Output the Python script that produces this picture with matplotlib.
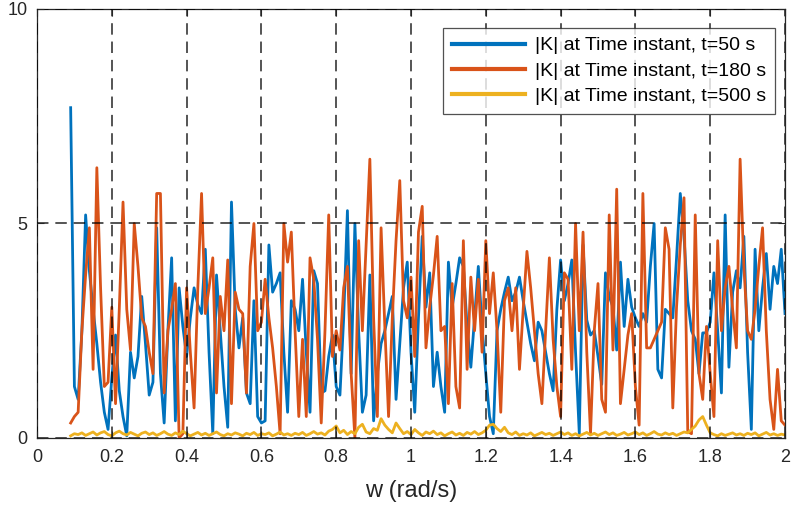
import numpy as np
import matplotlib
matplotlib.use("Agg")
import matplotlib.pyplot as plt

plt.rcParams['font.family'] = ['Liberation Sans', 'DejaVu Sans']

w_start, w_step, n_pts = 0.09, 0.01, 192

k_t50 = [7.7,
    1.2, 0.9, 2.5, 5.2, 3.9, 3.0, 2.2, 1.3, 0.6, 0.2,
    1.4, 2.4, 1.1, 0.5, 0.05, 2.0, 1.4, 1.9, 3.3, 2.2,
    1.0, 1.3, 4.9, 1.5, 0.35, 2.5, 4.2, 0.4, 3.5, 2.6,
    1.9, 2.8, 3.5, 3.1, 2.9, 4.4, 2.0, 0.1, 3.8, 2.5,
    1.2, 0.25, 5.5, 3.0, 2.1, 2.8, 1.05, 0.8, 3.2, 0.5,
    0.35, 0.4, 4.5, 3.4, 3.6, 3.85, 2.0, 0.6, 3.2, 3.0,
    2.5, 3.7, 2.0, 0.6, 3.9, 3.6, 1.05, 1.1, 1.9, 2.4,
    1.2, 1.0, 2.8, 5.3, 1.5, 5.0, 2.5, 0.6, 1.0, 3.8,
    0.4, 1.5, 2.2, 2.5, 2.9, 3.3, 0.9, 2.2, 3.5, 4.1,
    2.0, 0.6, 2.8, 4.7, 3.05, 3.85, 1.2, 2.0, 1.2, 0.6,
    4.1, 3.05, 3.6, 4.2, 4.0, 2.6, 1.65, 2.8, 4.0, 2.6,
    1.5, 0.5, 0.1, 2.5, 3.0, 3.4, 3.75, 3.2, 3.4, 3.75,
    3.2, 2.7, 2.2, 1.8, 2.7, 2.5, 2.0, 1.5, 1.1, 3.0,
    4.15, 3.2, 3.6, 4.15, 2.0, 0.1, 4.5, 2.75, 2.4, 2.5,
    1.9, 1.25, 3.85, 3.3, 3.05, 2.05, 4.1, 2.6, 3.7, 3.05,
    2.8, 2.6, 2.9, 2.7, 4.0, 5.0, 1.6, 1.4, 3.0, 2.9,
    2.8, 4.2, 5.7, 4.7, 3.2, 2.5, 2.3, 1.5, 2.45, 2.45,
    2.7, 3.85, 2.5, 1.05, 5.2, 1.65, 3.4, 3.9, 3.5, 4.7,
    2.0, 0.2, 4.4, 2.5, 3.5, 4.3, 3.0, 4.0, 3.6, 4.4,
    2.9]

k_t180 = [0.35,
    0.5, 0.6, 2.5, 3.8, 4.9, 1.6, 6.3, 3.5, 1.2, 1.3,
    3.05, 0.8, 3.0, 5.5, 3.0, 2.05, 5.0, 4.0, 2.8, 2.6,
    2.0, 1.5, 5.7, 5.7, 1.05, 2.5, 3.0, 3.6, 0.0, 0.1,
    3.5, 2.0, 0.7, 3.5, 5.7, 2.9, 3.5, 4.2, 1.05, 3.3,
    2.5, 4.15, 0.8, 3.4, 3.0, 2.9, 1.05, 4.0, 5.0, 2.5,
    2.7, 3.7, 2.8, 2.1, 1.2, 0.1, 5.0, 4.1, 4.8, 2.5,
    0.5, 2.3, 0.5, 4.2, 3.7, 2.3, 0.35, 2.5, 5.2, 1.9,
    2.5, 2.05, 3.5, 4.0, 1.5, 0.0, 4.6, 2.5, 4.5, 6.5,
    2.8, 0.5, 4.9, 2.6, 0.5, 2.8, 4.6, 6.0, 3.2, 2.8,
    3.75, 1.9, 4.8, 5.4, 2.1, 3.05, 3.8, 4.7, 2.5, 2.6,
    0.8, 3.6, 1.2, 0.7, 4.6, 1.6, 3.75, 2.5, 3.7, 2.0,
    4.6, 2.9, 3.85, 2.5, 0.6, 3.2, 3.5, 2.5, 3.5, 1.6,
    3.0, 4.35, 3.5, 2.5, 1.5, 0.8, 2.5, 4.2, 2.3, 1.2,
    0.5, 3.85, 3.7, 1.6, 5.0, 2.5, 4.8, 2.0, 0.1, 2.5,
    3.6, 0.9, 0.6, 5.2, 2.05, 5.8, 0.8, 1.6, 2.4, 2.9,
    1.2, 0.3, 5.7, 2.1, 2.1, 2.3, 2.5, 2.7, 4.9, 4.4,
    0.7, 3.05, 4.5, 5.6, 0.15, 0.1, 5.2, 1.5, 0.9, 2.6,
    1.5, 0.5, 4.6, 2.5, 3.5, 4.0, 3.0, 2.1, 6.5, 4.0,
    2.5, 2.3, 3.0, 4.0, 4.9, 2.5, 0.9, 0.2, 1.6, 0.4,
    0.3]

k_t500 = [
    0.05, 0.10, 0.08, 0.12, 0.06, 0.10, 0.14, 0.07, 0.12, 0.15,
    0.08, 0.05, 0.12, 0.16, 0.10, 0.07, 0.13, 0.09, 0.05, 0.11,
    0.14, 0.08, 0.12, 0.06, 0.10, 0.15, 0.09, 0.06, 0.12, 0.08,
    0.16, 0.10, 0.05, 0.09, 0.13, 0.07, 0.11, 0.06, 0.10, 0.14,
    0.08, 0.05, 0.10, 0.07, 0.12, 0.09, 0.05, 0.11, 0.08, 0.13,
    0.06, 0.10, 0.08, 0.12, 0.05, 0.09, 0.14, 0.07, 0.10, 0.06,
    0.11, 0.08, 0.13, 0.06, 0.10, 0.15, 0.09, 0.12, 0.07, 0.16,
    0.20, 0.28, 0.12, 0.18, 0.08, 0.15, 0.10, 0.25, 0.32, 0.14,
    0.10, 0.22, 0.18, 0.45, 0.30, 0.20, 0.12, 0.35, 0.22, 0.10,
    0.15, 0.08, 0.20, 0.12, 0.06, 0.14, 0.10, 0.16, 0.08, 0.12,
    0.05, 0.10, 0.14, 0.07, 0.11, 0.06, 0.13, 0.09, 0.15, 0.08,
    0.12, 0.18, 0.30, 0.32, 0.22, 0.15, 0.25, 0.12, 0.08, 0.14,
    0.06, 0.10, 0.07, 0.12, 0.05, 0.09, 0.13, 0.08, 0.11, 0.06,
    0.10, 0.14, 0.08, 0.12, 0.06, 0.10, 0.05, 0.09, 0.13, 0.07,
    0.11, 0.06, 0.10, 0.14, 0.08, 0.12, 0.06, 0.09, 0.13, 0.07,
    0.10, 0.14, 0.08, 0.12, 0.06, 0.10, 0.15, 0.09, 0.07, 0.12,
    0.08, 0.11, 0.06, 0.10, 0.14, 0.12, 0.20, 0.28, 0.42, 0.50,
    0.30, 0.12, 0.08, 0.05, 0.10, 0.06, 0.09, 0.12, 0.07, 0.10,
    0.06, 0.11, 0.08, 0.12, 0.05, 0.09, 0.13, 0.07, 0.10, 0.06,
    0.09, 0.07]

labels = ['|K| at Time instant, t=50 s',
          '|K| at Time instant, t=180 s',
          '|K| at Time instant, t=500 s']
colors = ['#0072BD', '#D95319', '#EDB120']
x_ticks = [0, 0.2, 0.4, 0.6, 0.8, 1, 1.2, 1.4, 1.6, 1.8, 2]
x_ticklabels = ['0', '0.2', '0.4', '0.6', '0.8', '1', '1.2', '1.4', '1.6', '1.8', '2']
y_ticks = [0, 5, 10]

w = w_start + w_step * np.arange(n_pts)

fig = plt.figure(figsize=(7.91, 5.08), dpi=100)
ax = fig.add_axes([37/791, 70/508, 748/791, 429/508])

for data, lab, col in zip([k_t50, k_t180, k_t500], labels, colors):
    ax.plot(w, data, color=col, lw=2.0, label=lab, zorder=2)

ax.set_xlim(0, 2)
ax.set_ylim(0, 10)
ax.set_xticks(x_ticks)
ax.set_xticklabels(x_ticklabels)
ax.set_yticks(y_ticks)
ax.tick_params(direction='in', top=True, right=True, labelsize=13,
               colors='#262626', length=5, width=0.8)
ax.tick_params(axis='x', pad=8)
ax.tick_params(axis='y', pad=7)
for sp in ax.spines.values():
    sp.set_color('#262626')
    sp.set_linewidth(0.9)

ax.grid(True, color='black', linestyle=(0, (7.5, 4.5)), linewidth=1.1, alpha=0.85)
ax.set_axisbelow(False)

ax.set_xlabel('w (rad/s)', fontsize=17, color='#262626', labelpad=10)

leg = ax.legend(loc='upper right', bbox_to_anchor=(738/748, 410/429),
                fontsize=14, handlelength=3.8,
                frameon=True, fancybox=False, borderaxespad=0,
                labelspacing=0.4, handletextpad=0.5, borderpad=0.45)
leg.get_frame().set_edgecolor('#262626')
leg.get_frame().set_linewidth(0.9)
for line in leg.get_lines():
    line.set_linewidth(3)

fig.savefig('out.png', dpi=100)
